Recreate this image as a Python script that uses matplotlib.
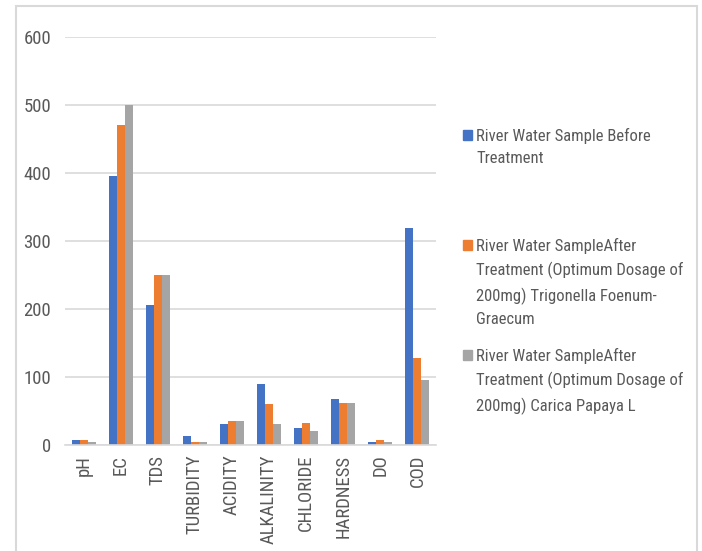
import matplotlib.pyplot as plt
import matplotlib.patches as mpatches
from matplotlib import font_manager
import numpy as np

# dar yazı tipi (Calibri'ye yakın)
names = set(f.name for f in font_manager.fontManager.ttflist)
fam = [n for n in ['Liberation Sans Narrow', 'DejaVu Sans Condensed', 'Roboto Condensed', 'Roboto'] if n in names]
plt.rcParams['font.family'] = fam + ['DejaVu Sans']

# kategoriler ve seriler
categories = ["pH", "EC", "TDS", "TURBIDITY", "ACIDITY", "ALKALINITY",
              "CHLORIDE", "HARDNESS", "DO", "COD"]
before = [7, 395, 206, 13, 31, 90, 25, 67, 4, 319]
trigonella = [7, 471, 250, 4, 35, 60, 32, 62, 7, 128]
papaya = [5, 500, 250, 5, 35, 31, 20, 62, 5, 96]

labels = ["River Water Sample Before\nTreatment",
          "River Water SampleAfter\nTreatment (Optimum Dosage of\n200mg) Trigonella Foenum-\nGraecum",
          "River Water SampleAfter\nTreatment (Optimum Dosage of\n200mg) Carica Papaya L"]
colors = ["#4472C4", "#ED7D31", "#A5A5A5"]
yticks = [0, 100, 200, 300, 400, 500, 600]

fig = plt.figure(figsize=(7.02, 5.51), dpi=100)
ax = fig.add_axes([65 / 702, 106 / 551, 371 / 702, 408 / 551])

x = np.arange(len(categories))
w = 0.216
series = [before, trigonella, papaya]
for i, vals in enumerate(series):
    ax.bar(x + (i - 1) * w, vals, width=w, color=colors[i], zorder=3)

ax.set_xlim(-0.5, len(categories) - 0.5)
ax.set_ylim(0, 600)
ax.set_yticks(yticks)
ax.set_xticks(x)
ax.set_xticklabels(categories, rotation=90)
ax.tick_params(axis='both', length=0, colors='#595959', labelsize=13.5)
ax.tick_params(axis='y', pad=10)
ax.tick_params(axis='x', pad=7)
ax.yaxis.grid(True, color='#d9d9d9', linewidth=1.2, zorder=0)
for s in ['top', 'right', 'left']:
    ax.spines[s].set_visible(False)
ax.spines['bottom'].set_color('#d9d9d9')
ax.spines['bottom'].set_linewidth(1.2)
ax.spines['bottom'].set_zorder(4)

# lejant: kare + metin
tops = [128, 238, 348]
for i in range(3):
    fig.add_artist(mpatches.Rectangle((463 / 702, 1 - (tops[i] + 12) / 551), 9 / 702, 10 / 551,
                                      transform=fig.transFigure, color=colors[i]))
    fig.text(476 / 702, 1 - tops[i] / 551, labels[i], ha='left', va='top',
             fontsize=12, color='#595959', linespacing=1.6)

# çerçeve
fig.add_artist(mpatches.Rectangle((15.5 / 702, -0.05), (697 - 15.5) / 702, 1.05 - 6.5 / 551,
                                  transform=fig.transFigure, fill=False,
                                  edgecolor='#d9d9d9', linewidth=1.5))

fig.savefig("out.png", dpi=100)
